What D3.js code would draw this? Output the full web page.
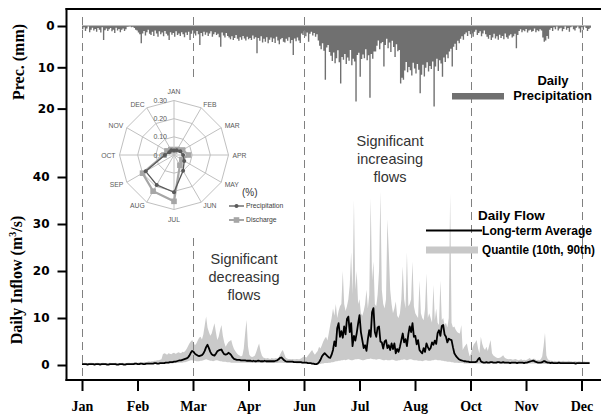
<!DOCTYPE html>
<html>
<head>
<meta charset="utf-8">
<script src="https://cdn.jsdelivr.net/npm/d3@7/dist/d3.min.js"></script>
<style>
  body { margin: 0; background: #fff; }
  svg { display: block; }
</style>
</head>
<body>
<svg id="chart" width="601" height="416"></svg>
<script>
// ---- data -------------------------------------------------------------
// Axis labels along the year and the months that get a dashed guide line
const monthLabels = ['Jan', 'Feb', 'Mar', 'Apr', 'Jun', 'Jul', 'Aug', 'Oct', 'Nov', 'Dec'];
const dashedMonths = ['Jan', 'Mar', 'Jun', 'Oct', 'Dec'];
const precipTicks = [0, 10, 20];
const flowTicks = [0, 10, 20, 30, 40];

// Daily precipitation (mm), day 1..365
const dailyPrecip = [
  0.8,0.3,1.2,0.6,0,1.5,0.9,0.4,1.1,0.7,
  1.4,0.5,0.9,1.6,0.3,3.4,1.0,0.6,1.2,0.8,
  0.5,1.3,0.9,1.7,0.4,1.1,0.7,1.5,0.9,0.6,
  1.2,0.8,0.2,0.1,0,0.3,0.2,0.5,0.9,1.1,
  1.6,2.0,4.2,1.8,1.2,2.3,1.5,0.9,1.9,2.2,
  1.4,2.4,1.1,1.8,2.6,1.3,2.0,1.6,2.5,1.2,
  1.9,2.3,3.4,1.5,2.1,1.7,2.6,1.3,2.2,1.8,
  2.4,1.5,2.0,2.7,1.6,2.2,1.4,3.4,1.9,1.1,
  1.8,2.3,1.2,2.0,4.6,1.7,2.5,1.4,2.1,1.6,
  2.4,1.8,1.3,2.6,2.0,1.5,2.2,1.9,2.7,5.0,
  1.6,2.3,2.8,1.7,2.4,2.8,3.2,2.5,3.4,2.9,
  2.2,3.1,3.6,2.7,3.3,2.4,3.0,3.5,2.6,3.2,
  2.9,3.4,2.3,3.1,2.7,6.6,2.9,3.6,2.5,4.0,
  3.1,3.8,2.7,4.2,3.3,2.8,3.9,3.0,4.1,2.6,
  3.5,4.4,3.2,2.9,3.8,4.0,3.1,3.6,2.7,4.2,
  3.4,7.0,3.0,3.7,2.8,3.5,4.1,1.8,2.2,1.3,
  2.5,1.6,3.8,1.9,1.4,2.3,1.7,2.6,2.0,3.5,
  4.8,5.6,4.2,6.0,13.0,5.2,4.6,6.3,7.2,8.5,
  6.4,9.0,7.8,5.9,8.8,13.9,7.5,8.2,6.8,9.2,
  7.6,8.4,5.8,9.5,7.9,8.6,18.3,7.0,6.5,12.3,
  8.0,6.9,7.8,5.6,8.3,7.1,17.4,6.8,7.9,6.2,
  6.2,4.8,3.5,5.6,4.2,3.9,9.8,4.6,3.1,5.4,
  4.0,6.3,3.6,5.1,7.5,4.4,6.1,5.8,13.9,12.5,
  13.0,10.8,8.7,11.2,9.9,10.7,12.0,8.9,10.3,11.5,
  9.2,10.6,16.3,11.8,9.4,12.2,10.1,8.8,11.0,9.7,
  10.4,8.6,19.5,9.8,7.9,10.9,8.3,9.1,12.3,7.6,
  8.7,6.9,7.8,6.2,5.5,9.8,5.0,4.3,5.8,3.6,
  4.2,3.1,2.5,3.3,2.0,1.6,2.4,1.2,2.0,1.8,
  2.6,1.4,0.9,2.2,1.7,1.3,2.5,1.8,1.1,2.0,
  2.6,3.1,2.2,3.4,2.8,1.9,3.0,2.5,3.3,2.1,
  2.9,2.4,3.2,1.8,2.7,3.1,2.3,2.0,2.8,2.5,
  1.9,5.4,2.2,1.2,0.8,1.5,1.0,1.3,0.7,1.6,
  1.1,0.9,1.4,1.2,0.6,1.5,1.0,1.3,0.8,1.1,
  2.8,3.8,3.5,2.4,3.1,0.9,0.5,1.2,0.3,0.8,
  0,1.1,0.6,0.4,1.3,0.7,0,0.9,0.5,1.4,
  0.3,0,0.8,1.1,0.4,0,0.6,1.6,0.3,0.9,
  0,0.5,1.2,0.7,0.4
];

// Long-term average daily inflow (m3/s)
const flowMean = [
  0.2,0.2,0.2,0.2,0.1,0.2,0.2,0.2,0.2,0.1,
  0.2,0.2,0.2,0.1,0.2,0.2,0.2,0.2,0.1,0.1,
  0.2,0.2,0.2,0.2,0.2,0.1,0.1,0.2,0.2,0.2,
  0.1,0.1,0.2,0.2,0.2,0.2,0.2,0.2,0.3,0.3,
  0.2,0.2,0.3,0.3,0.2,0.2,0.3,0.3,0.3,0.3,
  0.3,0.3,0.4,0.4,0.3,0.3,0.4,0.4,0.4,0.4,
  0.5,0.5,0.5,0.6,0.6,0.6,0.7,0.7,0.8,0.9,
  1.0,1.0,1.1,1.2,1.3,1.4,1.6,2.0,2.6,3.0,
  2.8,2.4,2.2,2.0,1.9,2.0,2.1,2.4,3.0,3.8,
  4.3,3.6,2.8,2.3,2.1,2.0,2.4,2.9,3.1,3.2,
  3.3,2.7,2.3,2.2,2.3,2.6,2.4,2.1,1.6,1.3,
  1.2,1.1,1.1,1.1,1.0,1.0,1.0,1.0,0.9,0.9,
  0.9,0.9,0.8,0.9,0.8,0.8,0.9,0.9,0.8,0.8,
  0.8,0.9,0.8,0.8,0.8,0.8,0.8,0.8,0.8,0.9,
  1.0,1.2,1.5,1.6,1.3,1.0,0.8,0.7,0.7,0.7,
  0.7,0.7,0.6,0.6,0.6,0.6,0.6,0.6,0.5,0.5,
  0.5,0.5,0.4,0.4,0.4,0.3,0.3,0.2,0.2,0.3,
  0.6,1.1,1.8,2.2,2.5,2.2,1.9,1.6,1.5,2.2,
  3.2,5.0,4.0,7.8,8.9,6.0,7.2,5.8,8.2,6.5,
  9.8,10.3,7.0,8.9,4.0,6.2,5.2,6.8,8.8,10.6,
  7.0,5.3,3.6,4.2,3.0,5.5,7.4,6.0,11.2,12.1,
  7.0,6.0,8.0,8.2,5.0,4.8,3.5,5.0,5.3,3.6,
  4.2,3.2,4.6,3.4,4.6,2.5,3.4,2.8,3.9,5.3,
  6.7,4.8,5.5,4.0,6.5,8.2,7.0,8.9,6.0,6.2,
  4.4,5.3,3.2,2.8,2.5,3.6,2.8,4.6,3.8,3.2,
  3.6,4.8,4.3,5.2,4.5,6.8,7.4,6.2,8.3,8.5,
  6.5,6.0,4.8,5.6,5.4,5.3,3.8,2.5,2.0,1.6,
  1.3,1.1,1.0,0.9,0.8,0.8,0.7,0.7,0.6,0.6,
  0.6,0.6,0.6,0.7,1.2,1.5,0.8,0.6,0.5,0.5,
  0.6,0.5,0.5,0.6,0.6,0.5,0.5,0.5,0.6,0.6,
  0.5,0.5,0.6,0.5,0.5,0.5,0.5,0.4,0.5,0.5,
  0.5,0.5,0.4,0.5,0.5,0.5,0.5,0.4,0.5,0.5,
  0.6,0.7,0.8,0.9,0.9,0.7,0.6,0.5,0.5,0.5,
  0.6,0.8,0.8,0.6,0.5,0.5,0.4,0.5,0.4,0.4,
  0.4,0.4,0.5,0.4,0.4,0.4,0.4,0.4,0.4,0.4,
  0.4,0.4,0.4,0.4,0.3,0.4,0.4,0.4,0.4,0.4,
  0.4,0.4,0.4,0.4,0.4
];

// 90th percentile of daily inflow (m3/s)
const flowQ90 = [
  0.4,0.4,0.5,0.4,0.4,0.4,0.5,0.5,0.4,0.4,
  0.4,0.5,0.4,0.4,0.4,0.5,0.4,0.4,0.4,0.4,
  0.5,0.4,0.4,0.4,0.5,0.4,0.4,0.4,0.4,0.5,
  0.4,0.4,0.4,0.5,0.5,0.4,0.5,0.5,0.6,0.5,
  0.5,0.6,0.6,0.5,0.6,0.7,0.6,0.7,0.8,0.7,
  0.8,0.8,0.9,0.9,1.0,1.0,1.1,1.2,2.3,2.5,
  2.4,2.2,2.5,2.4,2.3,2.5,2.6,2.4,2.5,2.7,
  2.6,2.5,2.8,2.7,3.0,3.4,4.0,4.6,5.0,5.3,
  4.8,4.2,4.6,5.2,5.8,6.0,5.4,6.5,8.4,10.3,
  8.0,7.0,6.2,6.7,7.8,8.9,7.0,5.3,6.0,7.4,
  8.5,6.2,4.8,3.9,4.4,4.9,5.1,5.3,4.2,3.4,
  2.9,2.5,2.2,2.0,1.8,2.0,3.5,6.8,9.6,4.0,
  2.2,1.8,1.7,1.8,2.0,2.8,3.8,4.6,3.0,2.0,
  1.6,1.5,1.4,1.5,1.4,1.3,1.5,1.4,1.4,1.5,
  1.4,1.6,2.2,2.8,3.2,2.4,1.6,1.4,1.3,1.3,
  1.2,1.3,1.2,1.2,1.3,1.2,1.2,1.4,1.6,1.8,
  1.7,1.6,2.0,2.4,2.8,3.2,2.6,2.2,2.6,3.0,
  3.9,3.5,4.2,5.0,5.6,6.0,5.2,6.8,8.5,10.0,
  12.0,10.5,13.0,10.0,11.5,12.5,13.0,20.0,13.0,11.5,
  12.5,14.0,17.0,24.0,15.0,35.1,16.0,20.0,13.0,14.0,
  11.0,10.5,11.5,13.0,16.0,12.0,15.0,35.5,18.0,22.0,
  13.0,12.5,15.0,20.0,36.9,16.0,13.0,12.0,14.0,31.0,
  24.0,16.0,13.0,11.0,12.0,13.5,10.5,10.0,11.0,14.0,
  21.0,14.0,12.0,24.0,12.5,13.0,14.0,22.0,12.5,11.0,
  10.5,10.0,18.0,11.0,10.0,9.5,12.0,19.5,10.0,11.0,
  10.0,9.0,17.0,9.5,12.0,9.0,8.5,18.0,9.5,10.0,
  8.5,9.0,8.0,10.0,36.5,9.0,8.0,8.2,7.5,7.0,
  6.8,6.7,8.5,3.2,3.8,4.2,4.6,3.0,1.8,2.5,
  3.6,4.4,4.8,5.3,3.5,2.5,6.0,4.5,3.6,3.2,
  3.9,3.0,4.2,5.3,2.5,2.0,1.8,1.6,1.5,1.5,
  1.6,1.8,2.1,1.6,1.4,1.3,1.2,1.3,1.2,1.1,
  1.2,1.3,1.1,1.0,1.1,1.2,1.0,1.1,1.0,1.1,
  1.3,1.5,1.2,1.1,1.4,1.2,1.0,1.1,1.0,1.2,
  1.8,4.0,6.8,2.0,1.2,1.0,0.9,0.9,0.8,0.9,
  0.8,0.8,0.9,0.8,0.8,0.9,0.8,0.8,0.8,0.9,
  0.8,0.8,0.7,0.8,0.8,0.7,0.8,0.8,0.7,0.7,
  0.8,0.7,0.7,0.7,0.7
];

// 10th percentile of daily inflow (m3/s)
const flowQ10 = [
  0.1,0.1,0.1,0.1,0.1,0.1,0.1,0.1,0.1,0.1,
  0.1,0.1,0.1,0.1,0.1,0.1,0.1,0.1,0.1,0.1,
  0.1,0.1,0.1,0.1,0.1,0.1,0.1,0.1,0.1,0.1,
  0.1,0.1,0.1,0.1,0.1,0.1,0.1,0.1,0.1,0.1,
  0.1,0.1,0.1,0.1,0.1,0.1,0.1,0.2,0.2,0.2,
  0.2,0.2,0.2,0.2,0.2,0.2,0.2,0.2,0.2,0.2,
  0.3,0.3,0.3,0.3,0.3,0.3,0.4,0.4,0.4,0.4,
  0.5,0.5,0.5,0.6,0.6,0.7,0.8,0.9,1.0,1.0,
  0.9,0.9,0.8,0.8,0.8,0.9,0.9,1.0,1.1,1.2,
  1.1,1.0,0.9,0.9,0.8,0.9,1.0,1.0,0.9,0.8,
  0.8,0.7,0.7,0.7,0.6,0.6,0.6,0.5,0.5,0.5,
  0.5,0.5,0.5,0.5,0.5,0.5,0.5,0.5,0.5,0.5,
  0.5,0.4,0.4,0.4,0.4,0.4,0.4,0.4,0.4,0.4,
  0.4,0.4,0.4,0.4,0.4,0.4,0.4,0.4,0.4,0.4,
  0.4,0.5,0.5,0.5,0.5,0.4,0.4,0.4,0.4,0.4,
  0.4,0.4,0.4,0.4,0.3,0.3,0.3,0.3,0.3,0.3,
  0.3,0.3,0.2,0.2,0.2,0.1,0.1,0.1,0.1,0.1,
  0.2,0.2,0.3,0.3,0.4,0.4,0.4,0.5,0.5,0.6,
  0.6,0.7,0.8,0.8,0.9,0.9,1.0,1.0,1.1,1.0,
  1.1,1.2,1.1,1.0,1.0,1.1,1.2,1.2,1.3,1.2,
  1.1,1.0,1.0,1.1,1.2,1.3,1.3,1.4,1.3,1.2,
  1.2,1.1,1.2,1.3,1.2,1.1,1.0,1.0,1.1,1.0,
  1.0,1.0,1.1,1.1,1.0,0.9,0.9,1.0,1.0,1.1,
  1.1,1.2,1.1,1.0,1.1,1.2,1.2,1.1,1.0,1.0,
  1.0,0.9,0.9,0.9,0.8,0.9,1.0,1.0,0.9,0.9,
  0.9,1.0,1.0,1.1,1.1,1.0,1.0,1.0,0.9,0.9,
  0.8,0.8,0.7,0.7,0.7,0.6,0.6,0.5,0.5,0.5,
  0.4,0.4,0.4,0.4,0.3,0.3,0.3,0.3,0.3,0.3,
  0.3,0.3,0.3,0.3,0.3,0.3,0.3,0.3,0.3,0.3,
  0.3,0.3,0.3,0.3,0.3,0.3,0.3,0.3,0.3,0.3,
  0.3,0.3,0.3,0.3,0.3,0.3,0.3,0.3,0.3,0.3,
  0.3,0.3,0.3,0.3,0.3,0.3,0.3,0.3,0.3,0.3,
  0.3,0.3,0.3,0.3,0.3,0.3,0.3,0.3,0.3,0.3,
  0.2,0.2,0.2,0.2,0.2,0.2,0.2,0.2,0.2,0.2,
  0.2,0.2,0.2,0.2,0.2,0.2,0.2,0.2,0.2,0.2,
  0.2,0.2,0.2,0.2,0.2,0.2,0.2,0.2,0.2,0.2,
  0.2,0.2,0.2,0.2,0.2
];

// Monthly share (%) of annual precipitation and discharge (inset radar)
const radarMonths = ['JAN','FEB','MAR','APR','MAY','JUN','JUL','AUG','SEP','OCT','NOV','DEC'];
const radarPrecip = [0.025, 0.03, 0.04, 0.05, 0.065, 0.10, 0.205, 0.19, 0.18, 0.05, 0.03, 0.03];
const radarDischarge = [0.025, 0.035, 0.055, 0.08, 0.05, 0.065, 0.255, 0.23, 0.20, 0.055, 0.045, 0.035];
const radarRings = [0, 0.1, 0.2, 0.3];

// ---- scales -----------------------------------------------------------
const svg = d3.select('#chart');
const x = d3.scaleLinear().domain([0, 365]).range([82, 591]);
const yP = d3.scaleLinear().domain([0, 20]).range([26, 108.6]);
const yQ = d3.scaleLinear().domain([0, 40]).range([365, 177]);
const tickDays = monthLabels.map((m, i) => i * 39.8);

const sansBold = "'Liberation Sans', Arial, sans-serif";
const serif = "'Liberation Serif', 'Times New Roman', serif";

// ---- quantile band and average flow -------------------------------------
const flow = flowMean.map((m, i) => ({ i, m, lo: flowQ10[i], hi: flowQ90[i] }));

svg.append('path')
  .datum(flow)
  .attr('d', d3.area().x(d => x(d.i)).y0(d => yQ(d.lo)).y1(d => yQ(d.hi)))
  .attr('fill', '#cacaca');

// ---- daily precipitation bars hanging from the top axis -------------------
// one day-wide step per value, drawn as a single shape so neighbouring bars join seamlessly
const precipSteps = dailyPrecip.map((v, i) => ({ i, v }));
precipSteps.push({ i: dailyPrecip.length, v: dailyPrecip[dailyPrecip.length - 1] });
svg.append('path')
  .datum(precipSteps)
  .attr('d', d3.area().curve(d3.curveStepAfter)
    .x(d => x(d.i)).y0(yP(0)).y1(d => yP(d.v)))
  .attr('fill', '#707070');

svg.append('line')
  .attr('x1', x(0)).attr('x2', x(365))
  .attr('y1', yP(0)).attr('y2', yP(0))
  .attr('stroke', '#7a7a7a').attr('stroke-width', 1);

// ---- dashed seasonal guides ----------------------------------------------
svg.append('g').selectAll('line')
  .data(dashedMonths)
  .join('line')
  .attr('x1', m => Math.round(x(tickDays[monthLabels.indexOf(m)])) + 0.5)
  .attr('x2', m => Math.round(x(tickDays[monthLabels.indexOf(m)])) + 0.5)
  .attr('y1', 17).attr('y2', 380)
  .attr('stroke', '#808080').attr('stroke-width', 1)
  .attr('stroke-dasharray', '8,5');

svg.append('path')
  .datum(flow)
  .attr('d', d3.line().x(d => x(d.i)).y(d => yQ(d.m)))
  .attr('fill', 'none')
  .attr('stroke', '#000')
  .attr('stroke-width', 1.8)
  .attr('stroke-linejoin', 'round');

// ---- frame and axes -------------------------------------------------------
svg.append('line').attr('x1', 65.5).attr('x2', 601).attr('y1', 9).attr('y2', 9)
  .attr('stroke', '#000').attr('stroke-width', 2);
svg.append('line').attr('x1', 66.5).attr('x2', 66.5).attr('y1', 8).attr('y2', 381)
  .attr('stroke', '#000').attr('stroke-width', 2);
svg.append('line').attr('x1', 65.5).attr('x2', 601).attr('y1', 380).attr('y2', 380)
  .attr('stroke', '#000').attr('stroke-width', 2);

function styleAxis(g) {
  g.select('.domain').remove();
  g.selectAll('.tick line').attr('stroke', '#000').attr('stroke-width', 2);
}

svg.append('g')
  .attr('transform', 'translate(66.5,0)')
  .call(d3.axisLeft(yP).tickValues(precipTicks).tickSize(9).tickPadding(3))
  .call(styleAxis)
  .call(g => g.selectAll('text')
    .attr('font-family', "'DejaVu Sans', sans-serif")
    .attr('font-weight', 'bold').attr('font-size', 12).attr('fill', '#000'));

svg.append('g')
  .attr('transform', 'translate(66.5,0)')
  .call(d3.axisLeft(yQ).tickValues(flowTicks).tickSize(9).tickPadding(8))
  .call(styleAxis)
  .call(g => g.selectAll('text')
    .attr('font-family', "'DejaVu Sans', sans-serif")
    .attr('font-weight', 'bold').attr('font-size', 12).attr('fill', '#000'));

svg.append('g')
  .attr('transform', 'translate(0,380)')
  .call(d3.axisBottom(x).tickValues(tickDays).tickFormat((d, i) => monthLabels[i]).tickSize(11))
  .call(styleAxis)
  .call(g => g.selectAll('text')
    .attr('y', 31).attr('dy', 0)
    .attr('font-family', serif)
    .attr('font-weight', 'bold').attr('font-size', 14).attr('fill', '#000'));

// axis titles
svg.append('text')
  .attr('transform', 'translate(23.5,62) rotate(-90)')
  .attr('text-anchor', 'middle')
  .attr('font-family', serif).attr('font-weight', 'bold').attr('font-size', 16)
  .text('Prec. (mm)');

const inflowTitle = svg.append('text')
  .attr('transform', 'translate(21.5,280) rotate(-90)')
  .attr('text-anchor', 'middle')
  .attr('font-family', serif).attr('font-weight', 'bold').attr('font-size', 16);
inflowTitle.append('tspan').text('Daily Inflow (m');
inflowTitle.append('tspan').attr('font-size', 10).attr('dy', -6).text('3');
inflowTitle.append('tspan').attr('dy', 6).text('/s)');

// ---- legends --------------------------------------------------------------
svg.append('rect').attr('x', 452).attr('y', 93).attr('width', 52).attr('height', 6.5).attr('fill', '#707070');
svg.append('text').attr('x', 553).attr('y', 85).attr('text-anchor', 'middle')
  .attr('font-family', sansBold).attr('font-weight', 'bold').attr('font-size', 13).text('Daily');
svg.append('text').attr('x', 552.5).attr('y', 100).attr('text-anchor', 'middle')
  .attr('font-family', sansBold).attr('font-weight', 'bold').attr('font-size', 13).text('Precipitation');

svg.append('text').attr('x', 478).attr('y', 219.5)
  .attr('font-family', sansBold).attr('font-weight', 'bold').attr('font-size', 13.5).text('Daily Flow');
svg.append('line').attr('x1', 426).attr('x2', 482).attr('y1', 230.5).attr('y2', 230.5)
  .attr('stroke', '#000').attr('stroke-width', 2);
svg.append('text').attr('x', 482).attr('y', 235)
  .attr('font-family', sansBold).attr('font-weight', 'bold').attr('font-size', 12)
  .attr('textLength', 110).attr('lengthAdjust', 'spacingAndGlyphs').text('Long-term Average');
svg.append('rect').attr('x', 426).attr('y', 246.5).attr('width', 52).attr('height', 7).attr('fill', '#c8c8c8');
svg.append('text').attr('x', 482).attr('y', 254)
  .attr('font-family', sansBold).attr('font-weight', 'bold').attr('font-size', 12)
  .attr('textLength', 113).attr('lengthAdjust', 'spacingAndGlyphs').text('Quantile (10th, 90th)');

// ---- annotations ------------------------------------------------------------
function note(cx, lines, y0) {
  const t = svg.append('text').attr('text-anchor', 'middle')
    .attr('font-family', sansBold).attr('font-size', 14.5).attr('fill', '#333');
  lines.forEach((s, k) => t.append('tspan').attr('x', cx).attr('y', y0 + k * 18.3).text(s));
}
note(244, ['Significant', 'decreasing', 'flows'], 263.5);
note(390, ['Significant', 'increasing', 'flows'], 145.5);

// ---- inset radar chart -------------------------------------------------------
svg.append('rect').attr('x', 93).attr('y', 82).attr('width', 204).attr('height', 155).attr('fill', '#fff');

const rc = { x: 174, y: 155 };
const rr = d3.scaleLinear().domain([0, 0.3]).range([0, 54.5]);
const ang = i => i * Math.PI / 6;
const radar = svg.append('g').attr('transform', `translate(${rc.x},${rc.y})`);

const ringLine = d3.lineRadial().angle((d, i) => ang(i)).radius(d => rr(d)).curve(d3.curveLinearClosed);
radar.selectAll('path.ring')
  .data(radarRings.slice(1))
  .join('path')
  .attr('class', 'ring')
  .attr('d', v => ringLine(radarMonths.map(() => v)))
  .attr('fill', 'none').attr('stroke', '#c0c0c0').attr('stroke-width', 1);

radar.selectAll('line.spoke')
  .data(radarMonths)
  .join('line')
  .attr('class', 'spoke')
  .attr('x1', 0).attr('y1', 0)
  .attr('x2', (m, i) => rr(0.3) * Math.sin(ang(i)))
  .attr('y2', (m, i) => -rr(0.3) * Math.cos(ang(i)))
  .attr('stroke', '#c0c0c0').attr('stroke-width', 1);

radar.selectAll('text.month')
  .data(radarMonths)
  .join('text')
  .attr('class', 'month')
  .attr('x', (m, i) => (rr(0.3) + 4) * Math.sin(ang(i)))
  .attr('y', (m, i) => {
    const c = Math.cos(ang(i));
    const base = -(rr(0.3) + 4) * c;
    if (c > 0.95) return base - 3;
    if (c < -0.95) return base + 8;
    return base + 2.5;
  })
  .attr('text-anchor', (m, i) => {
    const s = Math.sin(ang(i));
    return s > 0.1 ? 'start' : (s < -0.1 ? 'end' : 'middle');
  })
  .attr('font-family', sansBold).attr('font-size', 6.8).attr('fill', '#595959')
  .text(m => m);

radar.selectAll('text.ringlab')
  .data(radarRings)
  .join('text')
  .attr('class', 'ringlab')
  .attr('x', -7).attr('y', v => -rr(v) + 2.5)
  .attr('text-anchor', 'end')
  .attr('font-family', sansBold).attr('font-size', 7).attr('fill', '#595959')
  .text(v => v.toFixed(2));

const seriesLine = d3.lineRadial().angle((d, i) => ang(i)).radius(d => rr(d)).curve(d3.curveLinearClosed);
const pt = (v, i) => [rr(v) * Math.sin(ang(i)), -rr(v) * Math.cos(ang(i))];

radar.append('path').attr('d', seriesLine(radarDischarge))
  .attr('fill', 'none').attr('stroke', '#a6a6a6').attr('stroke-width', 2.2);
radar.selectAll('rect.q')
  .data(radarDischarge)
  .join('rect')
  .attr('class', 'q')
  .attr('x', (v, i) => pt(v, i)[0] - 2.8).attr('y', (v, i) => pt(v, i)[1] - 2.8)
  .attr('width', 5.6).attr('height', 5.6).attr('fill', '#a6a6a6');

radar.append('path').attr('d', seriesLine(radarPrecip))
  .attr('fill', 'none').attr('stroke', '#595959').attr('stroke-width', 1.3);
radar.selectAll('circle.p')
  .data(radarPrecip)
  .join('circle')
  .attr('class', 'p')
  .attr('cx', (v, i) => pt(v, i)[0]).attr('cy', (v, i) => pt(v, i)[1])
  .attr('r', 2).attr('fill', '#595959');

// radar legend
svg.append('text').attr('x', 242).attr('y', 196)
  .attr('font-family', sansBold).attr('font-size', 10).attr('fill', '#333').text('(%)');
svg.append('line').attr('x1', 229).attr('x2', 244).attr('y1', 206).attr('y2', 206)
  .attr('stroke', '#595959').attr('stroke-width', 1.3);
svg.append('circle').attr('cx', 236.5).attr('cy', 206).attr('r', 2).attr('fill', '#595959');
svg.append('text').attr('x', 246).attr('y', 208.3)
  .attr('font-family', sansBold).attr('font-size', 6.8).attr('fill', '#404040').text('Precipitation');
svg.append('line').attr('x1', 229).attr('x2', 244).attr('y1', 220).attr('y2', 220)
  .attr('stroke', '#a6a6a6').attr('stroke-width', 2);
svg.append('rect').attr('x', 233.7).attr('y', 217.2).attr('width', 5.6).attr('height', 5.6).attr('fill', '#a6a6a6');
svg.append('text').attr('x', 246).attr('y', 222.3)
  .attr('font-family', sansBold).attr('font-size', 6.8).attr('fill', '#404040').text('Discharge');
</script>
</body>
</html>
